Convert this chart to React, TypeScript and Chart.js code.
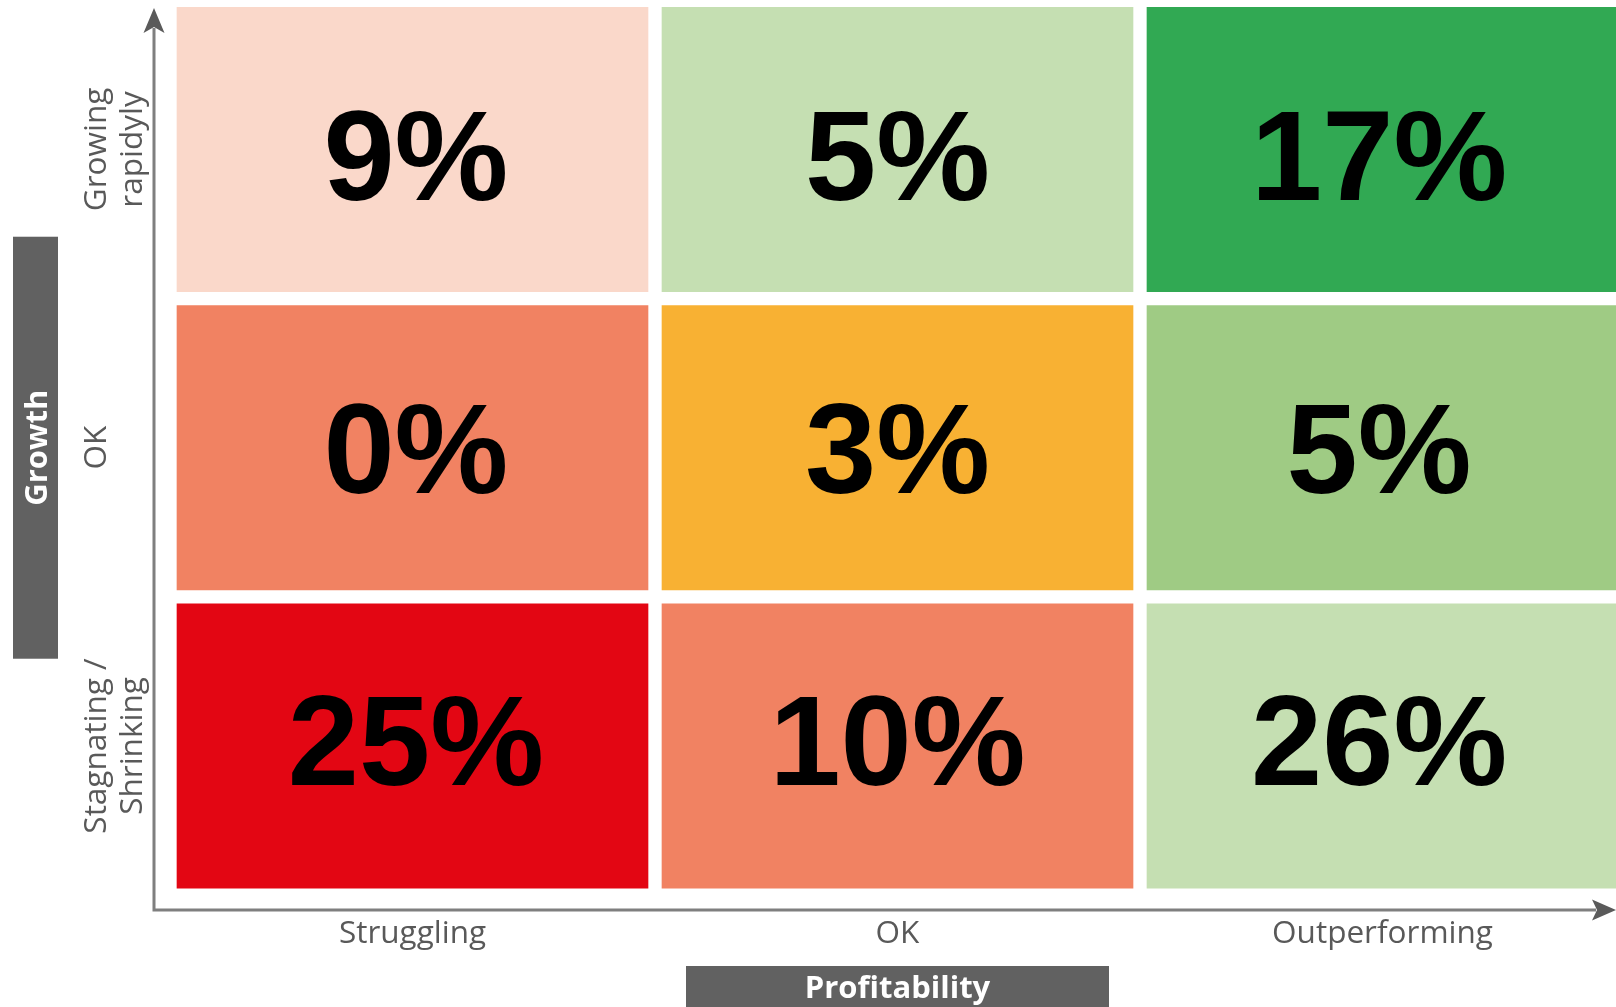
import React, { useEffect, useRef } from "react";
import { Chart, registerables } from "chart.js";

Chart.register(...registerables);

// Columns (x axis, left to right)
const profitabilityLabels = ["Struggling", "OK", "Outperforming"];
// Rows (y axis, bottom to top)
const growthLabels = [["Stagnating /", "Shrinking"], ["OK"], ["Growing", "rapidyly"]];

// Shares per row, one value per profitability column
const stagnatingShares = [25, 10, 26];
const okGrowthShares = [0, 3, 5];
const rapidGrowthShares = [9, 5, 17];

// Cell colours per row
const stagnatingColors = ["#E30613", "#F18262", "#C5DFB2"];
const okGrowthColors = ["#F18262", "#F8B133", "#9FCB84"];
const rapidGrowthColors = ["#FAD8CA", "#C5DFB2", "#31A953"];

const xAxisTitle = "Profitability";
const yAxisTitle = "Growth";

const rowShares = [stagnatingShares, okGrowthShares, rapidGrowthShares];
const rowColors = [stagnatingColors, okGrowthColors, rapidGrowthColors];

const TICK_FONT = "31.5px 'Open Sans', 'Noto Sans', sans-serif";
const TITLE_FONT = "bold 31px 'Open Sans', 'Noto Sans', sans-serif";
const VALUE_FONT = "bold 128px 'Liberation Sans', Arial, sans-serif";

const overlayPlugin = {
  id: "matrixOverlay",
  afterDatasetsDraw(chart: any) {
    const ctx = chart.ctx as CanvasRenderingContext2D;
    const ys = chart.scales.y;
    const xs = chart.scales.x;
    const midY = ys.getPixelForValue(1.5);
    const midX = xs.getPixelForValue(1.5);
    ctx.save();
    ctx.font = VALUE_FONT;
    ctx.fillStyle = "#000000";
    ctx.textAlign = "center";
    ctx.textBaseline = "alphabetic";
    rowShares.forEach((vals, r) => {
      const meta = chart.getDatasetMeta(r);
      meta.data.forEach((el: any, c: number) => {
        const p = el.getProps(["x", "y", "base"], true);
        const cy = (p.y + p.base) / 2;
        const ty = midY + (cy - midY) * 0.98 + 45;
        const tx = midX + (p.x - midX) * 0.993;
        ctx.fillText(`${vals[c]}%`, tx, ty);
      });
    });
    ctx.restore();
  },
  afterDraw(chart: any) {
    const ctx = chart.ctx as CanvasRenderingContext2D;
    const { left, bottom, top, right } = chart.chartArea;
    const xs = chart.scales.x;
    const ys = chart.scales.y;
    ctx.save();

    // axis lines
    ctx.strokeStyle = "#7f7f7f";
    ctx.lineWidth = 3;
    ctx.beginPath();
    ctx.moveTo(left, top + 28);
    ctx.lineTo(left, bottom);
    ctx.lineTo(right - 20, bottom);
    ctx.stroke();

    // arrow heads
    ctx.fillStyle = "#5a5a5a";
    ctx.beginPath();
    ctx.moveTo(left, top + 8);
    ctx.lineTo(left + 10.5, top + 33);
    ctx.lineTo(left, top + 27);
    ctx.lineTo(left - 10.5, top + 33);
    ctx.closePath();
    ctx.fill();
    ctx.beginPath();
    ctx.moveTo(right, bottom);
    ctx.lineTo(right - 24, bottom - 10.5);
    ctx.lineTo(right - 19, bottom);
    ctx.lineTo(right - 24, bottom + 10.5);
    ctx.closePath();
    ctx.fill();

    // x tick labels
    ctx.font = TICK_FONT;
    ctx.fillStyle = "#595959";
    ctx.textAlign = "center";
    ctx.textBaseline = "alphabetic";
    profitabilityLabels.forEach((lab, i) => {
      ctx.fillText(lab, xs.getPixelForValue(i + 0.5), bottom + 33);
    });

    // y tick labels (rotated)
    growthLabels.forEach((lines, i) => {
      const yc = ys.getPixelForValue(i + 0.5);
      ctx.save();
      ctx.translate(left - 48.5, yc);
      ctx.rotate(-Math.PI / 2);
      lines.forEach((ln, k) => ctx.fillText(ln, 0, k * 36));
      ctx.restore();
    });

    // y axis title box
    const ycMid = ys.getPixelForValue(1.5);
    ctx.fillStyle = "#616161";
    ctx.fillRect(left - 141, ycMid - 211, 45, 422);
    ctx.save();
    ctx.translate(left - 107, ycMid);
    ctx.rotate(-Math.PI / 2);
    ctx.font = TITLE_FONT;
    ctx.fillStyle = "#ffffff";
    ctx.fillText(yAxisTitle, 0, 0);
    ctx.restore();

    // x axis title box
    const xcMid = xs.getPixelForValue(1.5);
    ctx.fillStyle = "#616161";
    ctx.fillRect(xcMid - 211.5, bottom + 56, 423, 60);
    ctx.font = TITLE_FONT;
    ctx.fillStyle = "#ffffff";
    ctx.fillText(xAxisTitle, xcMid, bottom + 88);

    ctx.restore();
  },
};

export default function App() {
  const ref = useRef<HTMLCanvasElement>(null);

  useEffect(() => {
    document.body.style.margin = "0";
    document.body.style.overflow = "hidden";
    const canvas = ref.current;
    if (!canvas) return;

    const datasets = rowShares.map((vals, r) => ({
      label: growthLabels[r].join(" "),
      data: vals.map((_, c) => ({ x: c + 0.5, y: [r, r + 1] })),
      backgroundColor: rowColors[r],
      borderColor: "#ffffff",
      borderWidth: 7,
      borderSkipped: false,
      grouped: false,
      barPercentage: 1,
      categoryPercentage: 1,
    }));

    const chart = new Chart(canvas, {
      type: "bar",
      data: { datasets: datasets as any },
      options: {
        animation: false,
        responsive: false,
        maintainAspectRatio: false,
        devicePixelRatio: 1,
        layout: { padding: { left: 154, right: 0, top: 0, bottom: 97 } },
        plugins: { legend: { display: false }, tooltip: { enabled: false } },
        events: [],
        scales: {
          x: {
            type: "linear",
            display: false,
            offset: false,
            grid: { offset: false },
            min: -16 / 485,
            max: 1446 / 485,
            afterBuildTicks: (axis: any) => {
              axis.ticks = profitabilityLabels.map((_, i) => ({ value: i + 0.5 }));
            },
          },
          y: {
            type: "linear",
            display: false,
            offset: false,
            min: -0.0498,
            max: 3.001,
            afterBuildTicks: (axis: any) => {
              axis.ticks = growthLabels.map((_, i) => ({ value: i + 0.5 }));
            },
          },
        },
      } as any,
      plugins: [overlayPlugin],
    });

    return () => chart.destroy();
  }, []);

  return (
    <div style={{ width: 1616, height: 1007, background: "#ffffff" }}>
      <canvas ref={ref} width={1616} height={1007} style={{ display: "block" }} />
    </div>
  );
}
